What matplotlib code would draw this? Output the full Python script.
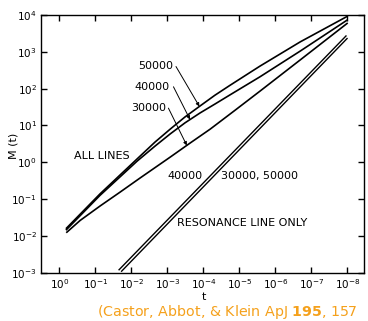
import matplotlib
matplotlib.use("Agg")
import matplotlib.pyplot as plt
import numpy as np

# values, as log10(t) and log10(M(t))
LOG_T = [-0.20, -1.13, -2.16, -2.66, -3.08, -3.49, -3.91, -4.32, -4.74,
         -5.57, -6.69, -7.99]
LOG_M_50000 = [-1.79, -0.86, 0.09, 0.55, 0.90, 1.23, 1.53, 1.82, 2.09,
               2.61, 3.27, 3.96]
LOG_M_40000 = [-1.83, -0.90, 0.03, 0.44, 0.77, 1.07, 1.34, 1.58, 1.83,
               2.32, 3.02, 3.86]

LOG_T_30000 = [-0.21, -0.58, -1.13, -1.69, -2.24, -3.08, -3.63, -4.19,
               -4.89, -5.57, -6.69, -7.99]
LOG_M_30000 = [-1.90, -1.58, -1.19, -0.81, -0.43, 0.14, 0.52, 0.90,
               1.42, 1.93, 2.78, 3.77]

# resonance line only: a close pair of straight lines
LOG_T_RES_A = [-1.66, -7.96]
LOG_M_RES_A = [-2.92, 3.43]
LOG_T_RES_B = [-1.73, -7.99]
LOG_M_RES_B = [-2.96, 3.36]

X_TICKS = list(range(0, -9, -1))
Y_TICKS = list(range(-3, 5))

# leader lines: (curve, log t of the tip, log t / log M of the tail)
LEADERS = [
    ("50000", -3.89, (-3.24, 2.60)),
    ("40000", -3.63, (-3.17, 2.05)),
    ("30000", -3.54, (-3.03, 1.47)),
]

ORANGE = "#f5a11c"


def tip(curve: str, lt: float) -> float:
    xs = {"50000": LOG_T, "40000": LOG_T, "30000": LOG_T_30000}[curve]
    ys = {"50000": LOG_M_50000, "40000": LOG_M_40000,
          "30000": LOG_M_30000}[curve]
    # np.interp needs increasing x
    return float(np.interp(-lt, [-v for v in xs], ys))


def main() -> None:
    fig = plt.figure(figsize=(3.68, 3.21), dpi=100)
    ax = fig.add_axes([0.1114, 0.1505, 0.8777, 0.8028])

    lw = 1.2
    for lt, lm in [(LOG_T, LOG_M_50000), (LOG_T, LOG_M_40000),
                   (LOG_T_30000, LOG_M_30000)]:
        ax.plot(10.0 ** np.array(lt), 10.0 ** np.array(lm), color="black",
                lw=lw, solid_joinstyle="round")
    for lt, lm in [(LOG_T_RES_A, LOG_M_RES_A), (LOG_T_RES_B, LOG_M_RES_B)]:
        ax.plot(10.0 ** np.array(lt), 10.0 ** np.array(lm), color="black",
                lw=1.0)

    ax.set_xscale("log")
    ax.set_yscale("log")
    ax.set_xlim(10 ** 0.508, 10 ** -8.46)
    ax.set_ylim(1e-3, 1e4)

    ax.set_xticks([10.0 ** v for v in X_TICKS])
    ax.set_xticklabels([rf"$10^{{{v}}}$" for v in X_TICKS])
    ax.set_yticks([10.0 ** v for v in Y_TICKS])
    ax.set_yticklabels([rf"$10^{{{v}}}$" for v in Y_TICKS])
    ax.minorticks_off()
    ax.tick_params(which="major", direction="in", length=4.5, width=1.0,
                   top=True, right=True, labelsize=7.5, pad=3)
    for sp in ax.spines.values():
        sp.set_linewidth(1.0)

    # leader lines from the temperature labels to the curves
    for curve, lt_tip, (lt0, lm0) in LEADERS:
        ax.annotate("", xy=(10 ** lt_tip, 10 ** tip(curve, lt_tip)),
                    xytext=(10 ** lt0, 10 ** lm0),
                    arrowprops=dict(arrowstyle="-|>", color="black", lw=0.7,
                                    mutation_scale=5, shrinkA=0, shrinkB=0))

    fs = 8
    ax.text(0.409, 0.803, "50000", transform=ax.transAxes, ha="right",
            va="center", fontsize=fs)
    ax.text(0.399, 0.721, "40000", transform=ax.transAxes, ha="right",
            va="center", fontsize=fs)
    ax.text(0.387, 0.640, "30000", transform=ax.transAxes, ha="right",
            va="center", fontsize=fs)
    ax.text(0.102, 0.453, "ALL LINES", transform=ax.transAxes, ha="left",
            va="center", fontsize=fs)
    ax.text(0.390, 0.375, "40000", transform=ax.transAxes, ha="left",
            va="center", fontsize=fs)
    ax.text(0.557, 0.375, "30000, 50000", transform=ax.transAxes, ha="left",
            va="center", fontsize=fs)
    ax.text(0.421, 0.192, "RESONANCE LINE ONLY", transform=ax.transAxes,
            ha="left", va="center", fontsize=fs)

    fig.text(0.036, 0.545, "M (t)", rotation=90, ha="center", va="center",
             fontsize=8)
    fig.text(0.554, 0.076, "t", ha="center", va="center", fontsize=8)

    fig.text(0.264, 0.028, r"(Castor, Abbot, & Klein ApJ $\mathbf{195}$, 157",
             ha="left", va="center", fontsize=10.3, color=ORANGE)

    fig.savefig("out.png", dpi=100, facecolor="white")
    plt.close(fig)


if __name__ == "__main__":
    main()
